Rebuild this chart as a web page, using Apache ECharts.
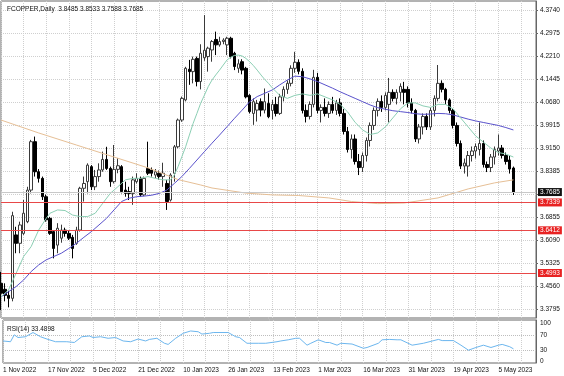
<!DOCTYPE html>
<html>
<head>
<meta charset="utf-8">
<script src="https://cdn.jsdelivr.net/npm/echarts@6/dist/echarts.min.js"></script>
<style>
html, body { margin: 0; padding: 0; background: #fff; }
#chart { width: 564px; height: 376px; }
</style>
</head>
<body>
<div id="chart"></div>
<script>
// daily bars, 1 Nov 2022 .. 10 May 2023
var opens = [3.465,3.445,3.425,3.415,3.626,3.598,3.631,3.670,3.775,3.936,
3.836,3.814,3.753,3.681,3.637,3.592,3.615,3.642,3.631,3.618,
3.598,3.642,3.781,3.803,3.853,3.786,3.820,3.842,3.877,3.847,
3.803,3.844,3.853,3.775,3.770,3.764,3.803,3.814,3.759,3.847,
3.842,3.825,3.831,3.820,3.797,3.742,3.831,3.919,4.008,4.075,
4.177,4.169,4.213,4.136,4.215,4.219,4.241,4.276,4.258,4.269,
4.258,4.280,4.230,4.180,4.202,4.180,4.090,4.030,4.041,4.069,
4.041,4.063,4.040,4.060,4.030,4.085,4.110,4.130,4.180,4.200,
4.170,4.040,4.020,4.060,4.150,4.040,4.050,4.030,4.060,4.040,
4.065,4.030,3.970,3.910,3.945,3.870,3.850,3.890,3.940,3.990,
4.040,4.070,4.050,4.060,4.100,4.080,4.100,4.110,4.110,4.065,
4.040,3.945,3.985,4.020,3.985,4.040,4.080,4.130,4.110,4.075,
4.040,3.990,3.930,3.855,3.855,3.890,3.905,3.910,3.930,3.860,
3.850,3.885,3.905,3.915,3.890,3.875,3.8485];
var closes = [3.432,3.425,3.415,3.690,3.598,3.659,3.698,3.775,3.936,3.836,
3.814,3.753,3.676,3.631,3.581,3.648,3.642,3.631,3.615,3.581,
3.642,3.781,3.797,3.858,3.786,3.820,3.842,3.877,3.847,3.803,
3.844,3.856,3.770,3.764,3.764,3.809,3.814,3.759,3.814,3.831,
3.831,3.836,3.820,3.831,3.737,3.825,3.919,4.008,4.080,4.180,
4.169,4.210,4.136,4.230,4.240,4.247,4.269,4.258,4.269,4.274,
4.280,4.219,4.186,4.195,4.174,4.085,4.036,4.069,4.063,4.041,
4.069,4.019,4.060,4.030,4.085,4.110,4.130,4.180,4.200,4.170,
4.040,4.020,4.060,4.150,4.040,4.050,4.030,4.060,4.040,4.065,
4.030,3.970,3.910,3.945,3.870,3.850,3.890,3.940,3.990,4.040,
4.070,4.050,4.090,4.100,4.080,4.100,4.120,4.100,4.065,4.040,
3.945,3.985,4.020,3.985,4.040,4.080,4.130,4.110,4.075,4.040,
3.990,3.930,3.855,3.865,3.890,3.905,3.920,3.930,3.860,3.850,
3.885,3.910,3.915,3.890,3.870,3.845,3.7685];
var highs = [3.503,3.465,3.440,3.703,3.653,3.670,3.742,3.786,3.942,3.953,
3.845,3.820,3.760,3.686,3.642,3.665,3.660,3.650,3.642,3.626,
3.653,3.786,3.820,3.864,3.858,3.842,3.864,3.903,3.919,3.853,
3.925,3.881,3.858,3.803,3.786,3.820,3.831,3.820,3.820,3.936,
3.850,3.845,3.840,3.866,3.809,3.831,3.925,4.013,4.086,4.185,
4.208,4.219,4.219,4.260,4.357,4.252,4.274,4.302,4.285,4.280,
4.285,4.285,4.235,4.210,4.210,4.185,4.094,4.080,4.075,4.080,
4.113,4.097,4.075,4.085,4.095,4.120,4.140,4.190,4.235,4.210,
4.180,4.060,4.070,4.175,4.165,4.060,4.080,4.070,4.085,4.075,
4.080,4.045,3.985,3.960,3.960,3.895,3.900,3.950,4.000,4.050,
4.080,4.090,4.100,4.148,4.110,4.110,4.130,4.135,4.120,4.080,
4.045,3.995,4.030,4.030,4.050,4.090,4.191,4.140,4.115,4.080,
4.045,4.000,3.940,3.880,3.905,3.920,3.930,4.000,3.940,3.870,
3.895,3.920,3.960,3.925,3.900,3.890,3.8533];
var lows = [3.376,3.405,3.385,3.405,3.565,3.565,3.626,3.665,3.764,3.820,
3.800,3.742,3.670,3.626,3.548,3.565,3.600,3.620,3.609,3.548,
3.593,3.637,3.737,3.764,3.775,3.775,3.803,3.836,3.842,3.786,
3.797,3.831,3.764,3.753,3.742,3.726,3.797,3.753,3.755,3.825,
3.820,3.815,3.810,3.786,3.709,3.737,3.803,3.914,4.002,4.070,
4.125,4.130,4.120,4.110,4.205,4.169,4.202,4.224,4.252,4.260,
4.224,4.213,4.174,4.165,4.160,4.080,4.030,3.992,4.003,4.020,
4.030,4.014,4.010,4.020,4.025,4.070,4.095,4.120,4.165,4.160,
4.030,4.000,4.010,4.050,4.030,4.000,4.020,4.015,4.030,4.025,
4.020,3.960,3.900,3.880,3.860,3.825,3.835,3.870,3.920,3.975,
4.020,4.035,4.040,4.000,4.070,4.060,4.070,4.060,4.050,4.030,
3.935,3.930,3.960,3.975,3.975,4.020,4.070,4.100,4.060,4.030,
3.980,3.920,3.845,3.830,3.820,3.870,3.880,3.890,3.850,3.835,
3.835,3.860,3.890,3.880,3.860,3.830,3.7588];

// moving averages as [bar, price]
var maFast = [[0,3.420],[2,3.443],[4,3.498],[6,3.554],[8,3.587],[10,3.642],[12,3.681],[13,3.698],[15,3.709],[17,3.707],
[19,3.692],[21,3.687],[23,3.687],[25,3.698],[27,3.731],[29,3.764],[31,3.786],[33,3.809],[35,3.814],[37,3.814],
[39,3.820],[41,3.814],[43,3.809],[45,3.809],[46,3.825],[47,3.853],[48,3.886],[49,3.919],[50,3.958],[51,3.997],
[52,4.030],[53,4.064],[54,4.091],[55,4.119],[56,4.141],[57,4.158],[58,4.174],[59,4.191],[60,4.208],[61,4.217],
[62,4.223],[63,4.224],[64,4.221],[65,4.213],[66,4.202],[67,4.189],[68,4.174],[69,4.158],[70,4.143],[71,4.130],
[72,4.115],[74,4.090],[76,4.080],[78,4.090],[80,4.095],[82,4.090],[84,4.095],[86,4.085],[88,4.075],[90,4.060],
[92,4.035],[94,4.000],[96,3.975],[98,3.960],[100,3.965],[102,3.985],[104,4.015],[106,4.045],[108,4.065],[110,4.065],
[112,4.055],[114,4.050],[116,4.060],[118,4.060],[120,4.045],[122,4.015],[124,3.985],[126,3.955],[128,3.935],[130,3.915],
[132,3.900],[134,3.895],[136,3.885]];
var maMid = [[0,3.420],[2,3.437],[4,3.454],[6,3.476],[8,3.504],[10,3.526],[12,3.543],[14,3.554],[16,3.565],[18,3.581],
[20,3.598],[22,3.618],[24,3.637],[26,3.659],[28,3.681],[30,3.709],[32,3.737],[34,3.748],[36,3.753],[38,3.755],
[40,3.758],[42,3.764],[44,3.775],[46,3.797],[48,3.820],[50,3.847],[52,3.875],[54,3.903],[56,3.931],[58,3.958],
[60,3.986],[62,4.014],[64,4.041],[66,4.069],[68,4.086],[70,4.097],[72,4.108],[74,4.125],[76,4.141],[78,4.154],
[80,4.152],[82,4.145],[84,4.136],[86,4.125],[88,4.114],[90,4.102],[92,4.091],[94,4.080],[96,4.069],[98,4.058],
[100,4.049],[102,4.044],[104,4.039],[106,4.036],[108,4.033],[110,4.029],[112,4.027],[114,4.028],[116,4.030],[118,4.029],
[120,4.025],[122,4.018],[124,4.011],[126,4.005],[128,4.000],[130,3.995],[132,3.990],[134,3.983],[136,3.975]];
var maSlow = [[0,4.008],[10,3.965],[20,3.925],[30,3.885],[39,3.849],[47,3.810],[53,3.792],[56,3.782],[65,3.765],[72,3.759],
[79,3.757],[87,3.749],[93,3.737],[100,3.730],[107,3.732],[116,3.749],[124,3.779],[131,3.799],[136,3.809]];

var rsi = [[0,54],[2,52],[3,70],[4,63],[6,65],[8,76],[10,65],[12,58],[14,52],[17,52],
[19,50],[21,65],[23,67],[24,63],[26,65],[28,61],[30,63],[32,54],[34,52],[36,59],
[38,54],[39,58],[41,61],[43,48],[44,45],[46,61],[48,74],[50,80],[52,78],[53,72],
[55,74],[56,76],[60,76],[62,65],[63,63],[65,48],[68,48],[70,48],[73,52],[74,54],
[76,57],[78,61],[79,61],[81,43],[82,48],[84,57],[86,50],[87,50],[89,43],[90,48],
[93,46],[96,35],[97,37],[100,48],[101,57],[103,58],[105,57],[106,57],[109,43],[112,48],
[116,58],[117,55],[120,55],[122,43],[124,30],[126,37],[128,43],[130,37],[132,43],[133,45],
[135,39],[136,33.49]];

var lastPrice = 3.7685;
var levels = [3.7339, 3.6412, 3.4993];
var priceTicks = [4.3740,4.2975,4.2210,4.1445,4.0680,3.9915,3.9150,3.8385,3.7620,3.6855,3.6090,3.5325,3.4560,3.3795];
var priceLabels = [4.3740,4.2975,4.2210,4.1445,4.0680,3.9915,3.9150,3.8385,3.6855,3.6090,3.5325,3.4560,3.3795];
var rsiLabels = [0, 30, 70, 100];
var rsiLevels = [30, 70];
var tickLabels = ['1 Nov 2022','17 Nov 2022','5 Dec 2022','21 Dec 2022','10 Jan 2023','26 Jan 2023',
'13 Feb 2023','1 Mar 2023','16 Mar 2023','31 Mar 2023','19 Apr 2023','5 May 2023'];

var nSlots = 143; // 137 bars + empty shift on the right
var cats = [];
for (var i = 0; i < nSlots; i++) cats.push(String(i));

var candles = [];
for (var i = 0; i < opens.length; i++) {
    candles.push([opens[i], closes[i], lows[i], highs[i]]);
}

var font = 'Liberation Sans';
var fs = 6.5;

function priceMark(values, lineColor, boxColor) {
    return {
        silent: true, symbol: 'none', animation: false, precision: 4,
        lineStyle: { color: lineColor, width: 1, type: 'solid' },
        label: {
            show: true, position: 'end', distance: 2, color: '#fff',
            backgroundColor: boxColor,
            fontSize: fs, fontFamily: font, padding: [1, 2, 0, 2],
            formatter: function (p) { return Number(p.data.yAxis).toFixed(4); }
        },
        emphasis: { disabled: true },
        data: values.map(function (v) { return { yAxis: v }; })
    };
}

var myChart = echarts.init(document.getElementById('chart'), null, { renderer: 'canvas' });

var option = {
    animation: false,
    backgroundColor: '#fff',
    textStyle: { fontFamily: font },
    title: [{
        text: 'FCOPPER,Daily  3.8485 3.8533 3.7588 3.7685',
        left: 2, top: 1,
        textStyle: { fontSize: fs, fontWeight: 'normal', color: '#111', fontFamily: font }
    }, {
        text: 'RSI(14) 33.4898',
        left: 2, top: 321,
        textStyle: { fontSize: fs, fontWeight: 'normal', color: '#111', fontFamily: font }
    }],
    grid: [
        { left: 1, right: 28, top: 1, height: 317, show: true, borderColor: '#666', borderWidth: 1, backgroundColor: '#fff' },
        { left: 1, right: 28, top: 320, height: 43, show: true, borderColor: '#666', borderWidth: 1, backgroundColor: '#fff' }
    ],
    xAxis: [{
        type: 'category', gridIndex: 0, data: cats, boundaryGap: false,
        axisLine: { show: false }, axisTick: { show: false }, axisLabel: { show: false },
        splitLine: { show: true, interval: 5, lineStyle: { color: '#cfcfcf', type: 'dotted' } }
    }, {
        type: 'category', gridIndex: 1, data: cats, boundaryGap: false,
        axisLine: { show: false }, axisTick: { show: false },
        splitLine: { show: true, interval: 5, lineStyle: { color: '#cfcfcf', type: 'dotted' } },
        axisLabel: {
            show: true, align: 'left', margin: 4, fontSize: fs, color: '#111', fontFamily: font,
            interval: function (idx) { return idx % 12 === 0 && idx / 12 < tickLabels.length; },
            formatter: function (v, idx) { return tickLabels[idx / 12] || ''; }
        }
    }],
    yAxis: [{
        type: 'value', gridIndex: 0, position: 'right',
        min: 3.3496, max: 4.4039,
        axisLine: { show: true, lineStyle: { color: '#666' } },
        axisTick: { show: true, length: 2, customValues: priceTicks, lineStyle: { color: '#666' } },
        axisLabel: {
            customValues: priceLabels, margin: 4, fontSize: fs, color: '#111', fontFamily: font,
            formatter: function (v) { return v.toFixed(4); }
        },
        splitLine: { show: true, lineStyle: { color: '#cfcfcf', type: 'dotted' } }
    }, {
        type: 'value', gridIndex: 1, position: 'right',
        min: -3.4, max: 108.6,
        axisLine: { show: true, lineStyle: { color: '#666' } },
        axisTick: { show: false, customValues: rsiLevels },
        axisLabel: {
            customValues: rsiLabels, margin: 4, fontSize: fs, color: '#111', fontFamily: font
        },
        splitLine: { show: true, lineStyle: { color: '#bdbdbd', type: 'dotted' } }
    }],
    series: [{
        type: 'line', xAxisIndex: 0, yAxisIndex: 0, data: maSlow,
        symbol: 'none', lineStyle: { color: '#e6bf96', width: 1 },
        markLine: priceMark([lastPrice], '#c8c8c8', '#111111')
    }, {
        type: 'line', xAxisIndex: 0, yAxisIndex: 0, data: maMid,
        symbol: 'none', lineStyle: { color: '#5a52cc', width: 1 },
        markLine: priceMark(levels, '#e84848', '#e82222')
    }, {
        type: 'line', xAxisIndex: 0, yAxisIndex: 0, data: maFast,
        symbol: 'none', lineStyle: { color: '#8ccfb4', width: 1 }
    }, {
        type: 'candlestick', xAxisIndex: 0, yAxisIndex: 0,
        data: candles, barWidth: 3,
        itemStyle: {
            color: '#ffffff', color0: '#000000',
            borderColor: '#3a3a3a', borderColor0: '#000000', borderWidth: 1
        }
    }, {
        type: 'line', xAxisIndex: 1, yAxisIndex: 1, data: rsi,
        symbol: 'none', lineStyle: { color: '#6cb6ee', width: 1 }
    }]
};
myChart.setOption(option);
</script>
</body>
</html>
